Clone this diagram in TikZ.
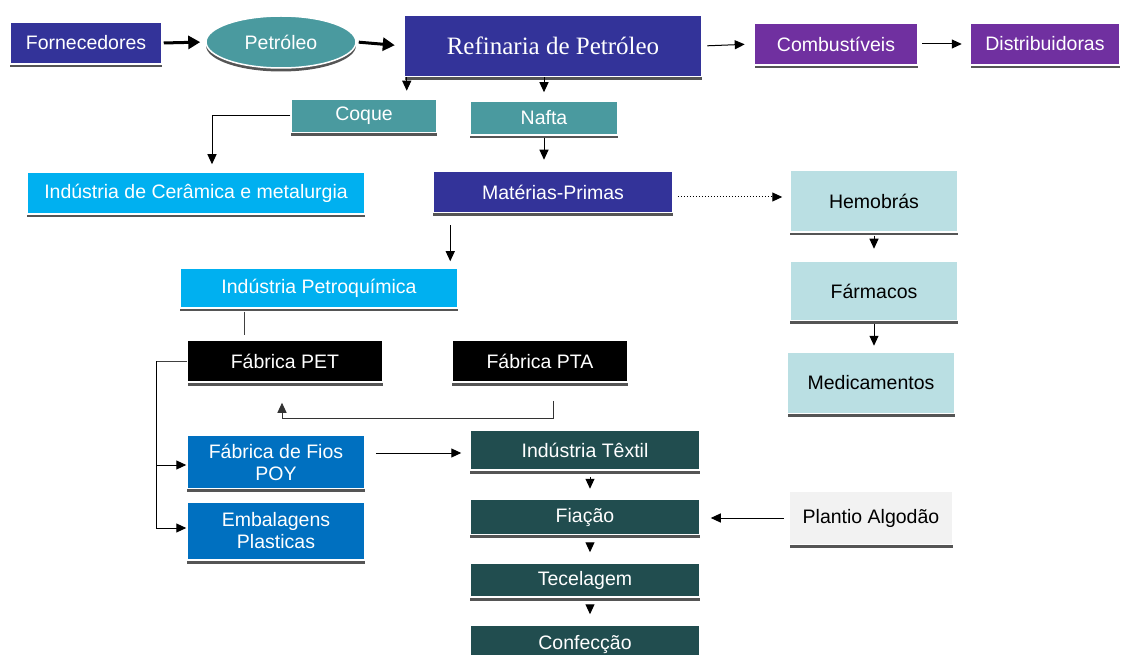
\documentclass[tikz,border=0pt]{standalone}
\usepackage{fontspec}
\setmainfont{Liberation Sans}
\newfontfamily\serifx{Liberation Serif}
\usetikzlibrary{arrows.meta,shapes.geometric,calc}
\definecolor{dblue}{HTML}{333399}
\definecolor{tealx}{HTML}{4A9A9F}
\definecolor{purplex}{HTML}{7030A0}
\definecolor{cyanx}{HTML}{00B0F0}
\definecolor{bluex}{HTML}{0070C0}
\definecolor{dteal}{HTML}{214D4F}
\definecolor{lblue}{HTML}{BADFE3}
\definecolor{lgray}{HTML}{F2F2F2}
\definecolor{shadowx}{HTML}{555555}
\begin{document}
\begin{tikzpicture}[x=1pt,y=-1pt,
  bx/.style={rectangle, draw=white, line width=1.5pt, inner sep=2pt, align=center,
    text=white, font=\fontsize{19.5}{22}\selectfont,
    preaction={fill=shadowx, transform canvas={yshift=-3.5pt}}},
  dk/.style={text=black},
  arr/.style={-{Triangle[length=10pt,width=9pt]}, line width=1pt, black},
  thickarr/.style={-{Triangle[length=12pt,width=13pt]}, line width=3pt, black},
  dotarr/.style={-{Triangle[length=10pt,width=9pt]}, line width=1pt, black, dotted},
  plainline/.style={line width=1pt, black!75}]
\useasboundingbox (0,0) rectangle (1128,655);
\fill[white] (0,0) rectangle (1128,655);
\clip (0,0) rectangle (1128,655);

% top row
\node[bx, fill=dblue, minimum width=152pt, minimum height=42pt] (forn) at (86,43) {Fornecedores};
\node[bx, ellipse, fill=tealx, minimum width=150pt, minimum height=52pt] (petr) at (281,42) {Petróleo};
\node[bx, fill=dblue, minimum width=297pt, minimum height=61pt, font=\serifx\fontsize{25}{27}\selectfont] (ref) at (553,46) {Refinaria de Petróleo};
\node[bx, fill=purplex, minimum width=163pt, minimum height=42pt] (comb) at (836,44) {Combustíveis};
\node[bx, fill=purplex, minimum width=149pt, minimum height=42pt] (dist) at (1045,44) {Distribuidoras};

% second row
\node[bx, fill=tealx, minimum width=146pt, minimum height=33pt] (coque) at (364,116) {Coque};
\node[bx, fill=tealx, minimum width=148pt, minimum height=34pt] (nafta) at (544,118) {Nafta};
\node[bx, fill=cyanx, minimum width=338pt, minimum height=42pt] (cer) at (196,193) {Indústria de Cerâmica e metalurgia};
\node[bx, fill=dblue, minimum width=240pt, minimum height=41pt] (mat) at (553,192) {Matérias-Primas};

% right column
\node[bx, dk, fill=lblue, minimum width=168pt, minimum height=62pt] (hemo) at (874,201) {Hemobrás};
\node[bx, dk, fill=lblue, minimum width=168pt, minimum height=59pt] (farm) at (874,291) {Fármacos};
\node[bx, dk, fill=lblue, minimum width=167pt, minimum height=61pt] (med) at (871,383) {Medicamentos};

% petroquimica
\node[bx, fill=cyanx, minimum width=278pt, minimum height=40pt] (petq) at (319,288) {Indústria Petroquímica};
\node[bx, fill=black, minimum width=195pt, minimum height=42pt] (pet) at (285,361) {Fábrica PET};
\node[bx, fill=black, minimum width=176pt, minimum height=42pt] (pta) at (540,361) {Fábrica PTA};
\node[bx, fill=bluex, minimum width=178pt, minimum height=53pt] (poy) at (276,462) {Fábrica de Fios\\POY};
\node[bx, fill=bluex, minimum width=178pt, minimum height=58pt] (emb) at (276,531) {Embalagens\\Plasticas};

% textile
\node[bx, fill=dteal, minimum width=230pt, minimum height=40pt] (tex) at (585,450) {Indústria Têxtil};
\node[bx, fill=dteal, minimum width=230pt, minimum height=35pt] (fia) at (585,517) {Fiação};
\node[bx, fill=dteal, minimum width=230pt, minimum height=34pt] (tec) at (585,580) {Tecelagem};
\node[bx, fill=dteal, minimum width=230pt, minimum height=40pt] (conf) at (585,645) {Confecção};
\node[bx, dk, fill=lgray, minimum width=163pt, minimum height=53pt] (pla) at (871,518) {Plantio Algodão};

% connectors top
\draw[thickarr, shorten <=1pt, shorten >=5pt] (forn.east) -- (petr.west);
\draw[thickarr, shorten <=2pt, shorten >=9pt] (petr.east) -- (ref.west);
\draw[arr, shorten <=5pt, shorten >=9pt] (ref.east) -- (comb.west);
\draw[arr, shorten <=4pt, shorten >=8pt] (comb.east) -- (dist.west);

\coordinate (r1) at ([xshift=3pt]ref.south west);
\draw[arr, shorten >=8pt] (r1) -- (r1 |- coque.north);
\draw[arr, shorten >=8pt] (ref.south -| nafta.north) -- (nafta.north);

\coordinate (c1) at ([xshift=16pt]cer.north);
\draw[arr, shorten >=7pt] (coque.west) -| (c1);
\draw[arr, shorten <=2pt, shorten >=11pt] (nafta.south) -- (nafta.south |- mat.north);
\draw[dotarr, shorten <=4pt, shorten >=7pt] ([yshift=-5pt]mat.east) -- ([yshift=-5pt]mat.east -| hemo.west);

\coordinate (m1) at ([xshift=18pt]mat.south west);
\draw[arr, shorten <=12pt, shorten >=6pt] (m1) -- (m1 |- petq.north);

\draw[arr, shorten <=3pt, shorten >=12pt] (hemo.south) -- (farm.north);
\draw[arr, shorten <=3pt, shorten >=6pt] (farm.south) -- (farm.south |- med.north);

% petroquimica connectors
\coordinate (p1) at ([xshift=65pt]petq.south west);
\draw[plainline, shorten <=3pt, shorten >=4pt] (p1) -- (p1 |- pet.north);
\draw[arr, black!80] ([xshift=13pt,yshift=-18pt]pta.south) |- ([xshift=-3pt,yshift=-36pt]pet.south) -- ([xshift=-3pt,yshift=-20pt]pet.south);

\draw[plainline] (pet.west) -- ([xshift=-30pt]pet.west) coordinate (j);
\draw[arr] (j) |- ([yshift=-3pt]poy.west);
\draw[arr] (j) |- ([yshift=3pt]emb.west);

\draw[arr, shorten <=10pt, shorten >=8pt] ([yshift=-3pt]tex.west -| poy.east) -- ([yshift=-3pt]tex.west);

\draw[arr, shorten <=6pt, shorten >=10pt] ([xshift=5pt]tex.south) -- ([xshift=5pt]fia.north);
\draw[arr, shorten <=8pt, shorten >=10pt] ([xshift=5pt]fia.south) -- ([xshift=5pt]tec.north);
\draw[arr, shorten <=8pt, shorten >=10pt] ([xshift=5pt]tec.south) -- ([xshift=5pt]conf.north);
\draw[arr, shorten <=5pt, shorten >=10pt] (pla.west) -- (pla.west -| fia.east);
\end{tikzpicture}
\end{document}
